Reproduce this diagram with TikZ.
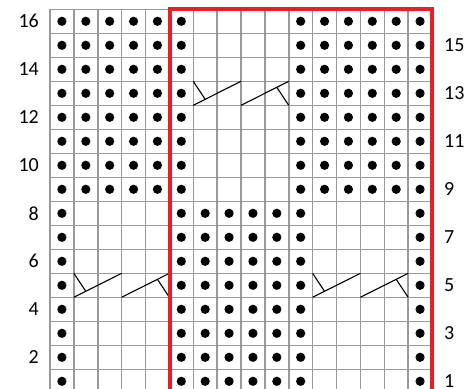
\documentclass[tikz,border=0pt]{standalone}
\usepackage{fontspec}
\setmainfont{Carlito}
\usetikzlibrary{calc}
\definecolor{gridgray}{HTML}{999999}
\definecolor{chartred}{HTML}{EE1C25}
\newcommand\cw{23.875}
\newcommand\cablepair[2]{% #1 = first column, #2 = row
  \pgfmathsetmacro\cl{50+\cw*#1}
  \pgfmathsetmacro\ct{9.3+24*(16-#2)}
  \pgfmathsetmacro\cb{\ct+24}
  \coordinate (c#1r#2a) at (\cl,\cb);
  \coordinate (c#1r#2b) at ({\cl+2*\cw},\ct);
  \coordinate (c#1r#2c) at ({\cl+2*\cw},\cb);
  \coordinate (c#1r#2d) at ({\cl+4*\cw},\ct);
  \draw[cableline] (c#1r#2a) -- (c#1r#2b);
  \draw[cableline] (\cl,\ct) -- ($(c#1r#2a)!0.25!(c#1r#2b)$);
  \draw[cableline] (c#1r#2c) -- (c#1r#2d);
  \draw[cableline] ({\cl+4*\cw},\cb) -- ($(c#1r#2c)!0.75!(c#1r#2d)$);
}
\begin{document}
\begin{tikzpicture}[x=1pt,y=-1pt,
  gridline/.style={draw=gridgray,line width=1.5pt},
  stitchdot/.style={fill=black},
  cableline/.style={draw=black,line width=1.1pt},
  redframe/.style={draw=chartred,line width=4.2pt},
  rowlabel/.style={font=\fontsize{20}{20}\selectfont,inner sep=0pt}]
\useasboundingbox (0,0) rectangle (475,389);
% grid
\foreach \k in {0,...,16}
  \draw[gridline] ({50+\cw*\k},9.3) -- ({50+\cw*\k},393.3);
\foreach \k in {0,...,16}
  \draw[gridline] (50,{9.3+24*\k}) -- (432,{9.3+24*\k});
% dots, upper half
\foreach \r in {9,...,16}
  \foreach \c in {0,1,2,3,4,5,10,11,12,13,14,15}
    \fill[stitchdot] ({50+\cw*(\c+0.5)},{9.3+24*(16-\r)+12}) circle[radius=4.6pt];
% dots, lower half
\foreach \r in {1,...,8}
  \foreach \c in {0,5,6,7,8,9,10,15}
    \fill[stitchdot] ({50+\cw*(\c+0.5)},{9.3+24*(16-\r)+12}) circle[radius=4.6pt];
% cables
\cablepair{6}{13}
\cablepair{1}{5}
\cablepair{11}{5}
% red frame
\draw[redframe] (170,393.3) -- (170,9.3) -- (432,9.3) -- (432,393.3);
% row labels
\foreach \r in {2,4,...,16}
  \node[rowlabel,anchor=east] (L\r) at (39,{9.3+24*(16-\r)+12}) {\r};
\foreach \r in {1,3,...,15}
  \node[rowlabel,anchor=west] (R\r) at (444,{9.3+24*(16-\r)+12}) {\r};
\end{tikzpicture}
\end{document}
